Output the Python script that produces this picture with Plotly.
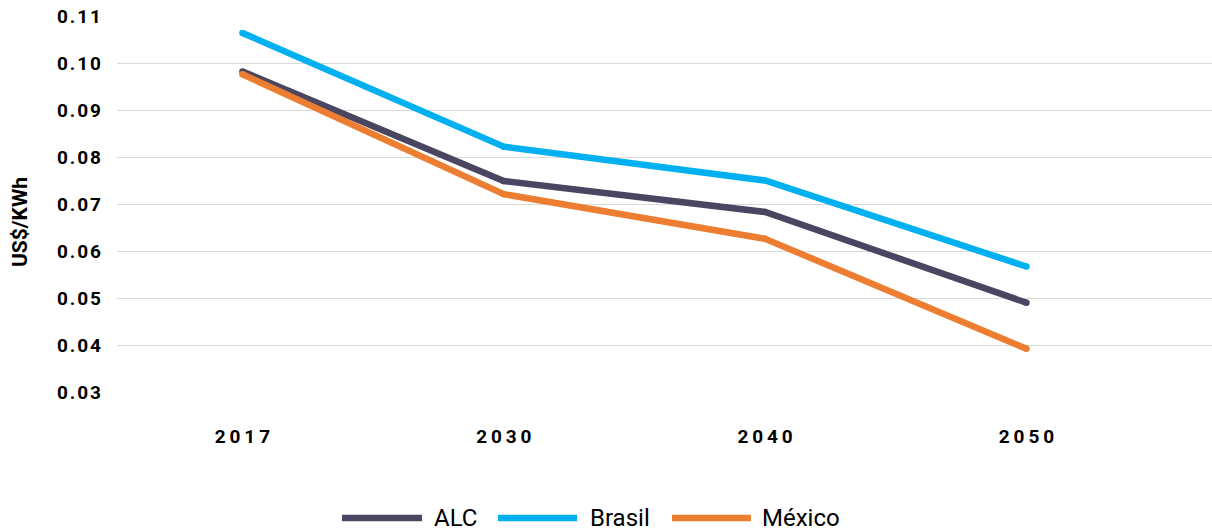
import plotly.graph_objects as go

years = ["2017", "2030", "2040", "2050"]
alc = [0.0982, 0.0749, 0.0683, 0.0490]
brasil = [0.1064, 0.0822, 0.0750, 0.0567]
mexico = [0.0976, 0.0721, 0.0626, 0.0392]
y_ticks = [0.03, 0.04, 0.05, 0.06, 0.07, 0.08, 0.09, 0.10, 0.11]

series = [
    ("ALC", alc, "#4a4662"),
    ("Brasil", brasil, "#00b0f0"),
    ("México", mexico, "#ed7d31"),
]


def spaced(s, sep):
    return sep.join(s)


fig = go.Figure()
for name, vals, color in series:
    # markers the size of the line give the round line ends
    fig.add_trace(
        go.Scatter(
            x=years,
            y=vals,
            name=name,
            mode="lines+markers",
            line=dict(color=color, width=6.5),
            marker=dict(color=color, size=6.5),
        )
    )

# legend drawn by hand so the swatch lines are long like the original
# (line start, line end, text start) in paper fractions
legend_pos = [(0.2055, 0.2785, 0.2877), (0.3479, 0.4201, 0.4301), (0.5068, 0.5790, 0.5873)]
shapes = []
annotations = []
for (name, _, color), (x0, x1, xt) in zip(series, legend_pos):
    shapes.append(
        dict(
            type="line", xref="paper", yref="paper",
            x0=x0, x1=x1, y0=-0.335, y1=-0.335,
            line=dict(color=color, width=6.5),
        )
    )
    annotations.append(
        dict(
            text=name, xref="paper", yref="paper",
            x=xt, y=-0.335, xanchor="left", yanchor="middle",
            showarrow=False, font=dict(size=24, color="#000000"),
        )
    )

annotations.append(
    dict(
        text="US$/KWh", xref="paper", yref="paper",
        x=-0.0886, y=0.452, xanchor="center", yanchor="middle",
        textangle=-90, showarrow=False,
        font=dict(size=21, weight="bold", color="#000000"),
    )
)

fig.update_layout(
    width=1212,
    height=532,
    margin=dict(l=117, r=0, t=16, b=140),
    paper_bgcolor="white",
    plot_bgcolor="white",
    font=dict(family="Roboto, sans-serif", color="#000000"),
    showlegend=False,
    shapes=shapes,
    annotations=annotations,
)
fig.update_xaxes(
    type="category",
    range=[-0.48, 3.71],
    tickvals=years,
    ticktext=[spaced(y, "\u2009") for y in years],
    tickfont=dict(size=19, weight="bold"),
    showgrid=False,
    zeroline=False,
    showline=False,
    ticks="",
    ticklabelstandoff=31,
)
fig.update_yaxes(
    range=[0.03, 0.11],
    tickvals=y_ticks,
    ticktext=[spaced(f"{v:.2f}", "\u200a") for v in y_ticks],
    tickfont=dict(size=19, weight="bold"),
    showgrid=True,
    gridcolor="#d9d9d9",
    gridwidth=1,
    zeroline=False,
    showline=False,
    ticklabelstandoff=15,
)

fig.write_html(
    "out.html",
    config={"displayModeBar": False},
    post_script="document.body.style.margin='0';",
)
